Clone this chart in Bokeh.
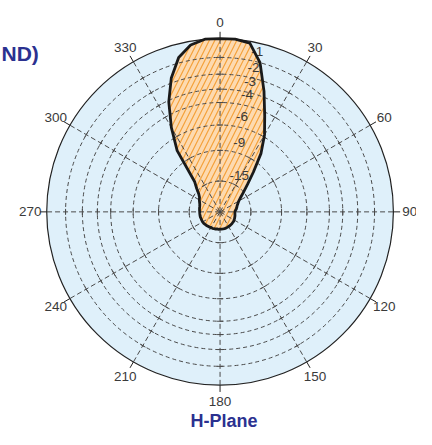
import numpy as np
from bokeh.plotting import figure
from bokeh.models import Range1d
from bokeh.core.properties import value
from bokeh.embed import file_html
from bokeh.resources import INLINE

# ---- data -------------------------------------------------------------
pattern_angle_deg = [0, 5, 10, 15, 20, 25, 30, 35, 40, 45, 50, 55, 60, 65, 70, 75,
                     80, 85, 90, 95, 100, 105, 110, 115, 120, 125, 130, 135, 140,
                     145, 150, 155, 160, 165, 170, 175, 180, 185, 190, 195, 200,
                     205, 210, 215, 220, 225, 230, 235, 240, 245, 250, 255, 260,
                     265, 270, 275, 280, 285, 290, 295, 300, 305, 310, 315, 320,
                     325, 330, 335, 340, 345, 350, 355]
pattern_db = [0.0, 0.0, -0.1, -1.0, -2.6, -4.3, -5.8, -7.7, -10.5, -13.0, -15.1,
              -16.8, -18.1, -18.9, -19.6, -20.0, -20.4, -21.0, -21.4, -21.3, -21.2,
              -21.0, -20.9, -20.7, -20.6, -20.4, -20.4, -20.3, -20.3, -20.2, -20.2,
              -20.1, -20.0, -20.0, -20.0, -20.0, -20.0, -19.9, -20.0, -19.8, -19.7,
              -19.6, -19.6, -19.4, -19.3, -19.1, -19.0, -18.8, -18.7, -18.7, -18.7,
              -18.6, -18.6, -18.6, -18.6, -18.5, -18.4, -18.3, -18.1, -17.7, -17.2,
              -16.8, -15.9, -14.4, -12.8, -7.3, -5.0, -3.1, -1.7, -0.7, -0.2, 0.0]
ring_db = [-1, -2, -3, -4, -6, -9, -15]
ring_labels = ["-1", "-2", "-3", "-4", "-6", "-9", "-15"]
spoke_angles = [0, 30, 60, 90, 120, 150, 180, 210, 240, 270, 300, 330]
spoke_labels = ["0", "30", "60", "90", "120", "150", "180", "210", "240", "270", "300", "330"]
title_text = "ND)"
plane_text = "H-Plane"

# ---- layout -----------------------------------------------------------
W, H = 416, 429
S = W / 432.0                 # fit the 432x445 design into the page
R = 180.0 * S
CX, CY = 228.0 * S, 219.5 * S  # polar centre in canvas px

NAVY = "#2b3190"
GRID = "#4a4a4a"
LBL = "#3a3a3a"
FONT = value("Liberation Sans")


def px_(v):
    return v * S


def db_to_r(db):
    return R * 10 ** (np.asarray(db, dtype=float) / 20.0)


def polar(r, deg):
    t = np.radians(np.asarray(deg, dtype=float))
    return np.asarray(r) * np.sin(t), np.asarray(r) * np.cos(t)


p = figure(width=W, height=H, x_range=Range1d(-CX, W - CX),
           y_range=Range1d(-(H - CY), CY), output_backend="svg",
           toolbar_location=None, min_border=0,
           x_axis_type=None, y_axis_type=None)
p.grid.visible = False
p.outline_line_color = None
p.background_fill_color = "white"
p.border_fill_color = "white"

# disc
p.circle(x=[0], y=[0], radius=[R], fill_color="#dff0fa", line_color=None)

# pattern fill with hatch
pr = db_to_r(pattern_db)
px, py = polar(pr, pattern_angle_deg)
p.patch(list(px), list(py), fill_color="#fddab0", line_color=None,
        hatch_pattern="/", hatch_color="#f4a13a", hatch_weight=1.2,
        hatch_scale=11)

# rings
rr = db_to_r(ring_db)
p.circle(x=[0] * len(rr), y=[0] * len(rr), radius=list(rr), fill_color=None,
         line_color=GRID, line_dash="4 3", line_width=1)

# spokes
sx, sy = polar(np.full(len(spoke_angles), R), spoke_angles)
p.segment(x0=[0] * len(sx), y0=[0] * len(sx), x1=list(sx), y1=list(sy),
          line_color=GRID, line_dash="5 3", line_width=1)

# small tangential ticks at ring / spoke crossings
tx0, ty0, tx1, ty1 = [], [], [], []
for a in spoke_angles:
    t = np.radians(a)
    for r in rr:
        cx, cy = r * np.sin(t), r * np.cos(t)
        dx, dy = np.cos(t) * 3, -np.sin(t) * 3
        tx0.append(cx - dx); ty0.append(cy - dy)
        tx1.append(cx + dx); ty1.append(cy + dy)
p.segment(x0=tx0, y0=ty0, x1=tx1, y1=ty1, line_color=GRID, line_width=1)

# outer ticks
ox0, oy0 = polar(np.full(len(spoke_angles), R), spoke_angles)
ox1, oy1 = polar(np.full(len(spoke_angles), R + px_(7)), spoke_angles)
p.segment(x0=list(ox0), y0=list(oy0), x1=list(ox1), y1=list(oy1),
          line_color="#222222", line_width=1)

# outer circle
p.circle(x=[0], y=[0], radius=[R], fill_color=None, line_color="#222222",
         line_width=1.2)

# angle labels
lx, ly = polar(np.full(len(spoke_angles), R + px_(17)), spoke_angles)
p.text(x=list(lx), y=list(ly), text=spoke_labels, text_font=FONT,
       text_font_size="13.5px", text_color=LBL, text_align="center",
       text_baseline="middle")

# ring labels
rl = rr + px_(11)
lxx = np.maximum(rl * np.sin(np.radians(13)), px_(20))
lyy = np.sqrt(rl ** 2 - lxx ** 2)
p.text(x=list(lxx), y=list(lyy), text=ring_labels, text_font=FONT,
       text_font_size="13.5px", text_color=LBL, text_align="center",
       text_baseline="middle")

# pattern outline
p.patch(list(px), list(py), fill_color=None, line_color="#1a1a1a",
        line_width=2.8, line_join="round")

# texts
p.text(x=[1 - CX], y=[CY - 53], text=[title_text], text_font=FONT,
       text_font_size="21px", text_font_style="bold", text_color=NAVY,
       text_align="left", text_baseline="alphabetic")
p.text(x=[px_(232) - CX], y=[CY - 420], text=[plane_text], text_font=FONT,
       text_font_size="18px", text_font_style="bold", text_color=NAVY,
       text_align="center", text_baseline="alphabetic")

open("out.html", "w").write(file_html(p, INLINE))
